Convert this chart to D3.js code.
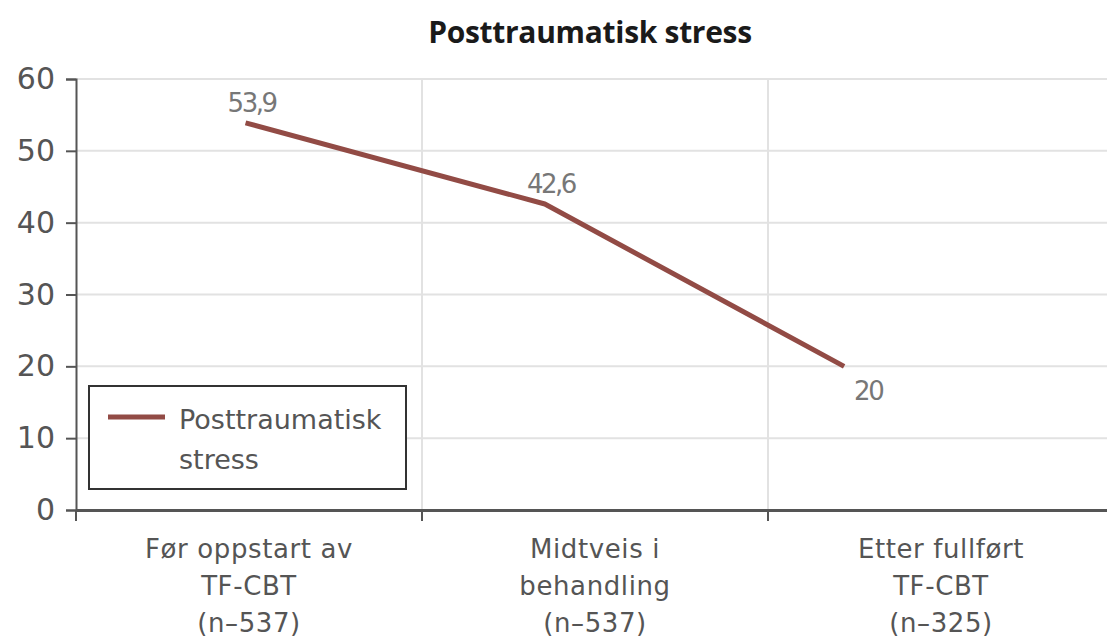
<!DOCTYPE html>
<html>
<head>
<meta charset="utf-8">
<script src="https://cdn.jsdelivr.net/npm/d3@7"></script>
<style>
  body { margin: 0; background: #fff; }
  svg { display: block; }
</style>
</head>
<body>
<div id="chart"></div>
<script>
// data
const categories = [
  ["Før oppstart av", "TF-CBT", "(n–537)"],
  ["Midtveis i", "behandling", "(n–537)"],
  ["Etter fullført", "TF-CBT", "(n–325)"]
];
const values = [53.9, 42.6, 20];
const valueLabels = ["53,9", "42,6", "20"];
const yTicks = [0, 10, 20, 30, 40, 50, 60];
const seriesName = ["Posttraumatisk", "stress"];
const title = "Posttraumatisk stress";

const width = 1107, height = 642;
const margin = { top: 79, right: -7, bottom: 132, left: 76 };
const lineColor = "#924b45";
const font = "'DejaVu Sans', 'Open Sans', sans-serif";
const textColor = "#555";

const svg = d3.select("#chart").append("svg")
  .attr("width", width)
  .attr("height", height);

const keys = categories.map((d, i) => i);
const x = d3.scaleBand()
  .domain(keys)
  .range([margin.left, width - margin.right]);

// the line in the original sits a bit left of the category centres
const xLine = d3.scalePoint()
  .domain(keys)
  .range([x(0) + x.bandwidth() * 0.49, x(2) + x.bandwidth() * 0.22]);

const y = d3.scaleLinear()
  .domain([0, 60])
  .range([height - margin.bottom, margin.top]);

// horizontal grid
svg.append("g")
  .selectAll("line")
  .data(yTicks.slice(1))
  .enter().append("line")
  .attr("x1", margin.left)
  .attr("x2", width)
  .attr("y1", d => y(d))
  .attr("y2", d => y(d))
  .attr("stroke", "#e2e2e2")
  .attr("stroke-width", 2);

// vertical grid at band boundaries
svg.append("g")
  .selectAll("line")
  .data(keys.slice(1))
  .enter().append("line")
  .attr("x1", d => x(d))
  .attr("x2", d => x(d))
  .attr("y1", y(60))
  .attr("y2", y(0))
  .attr("stroke", "#e2e2e2")
  .attr("stroke-width", 2);

// y axis
const yAxis = svg.append("g")
  .attr("transform", `translate(${margin.left},0)`)
  .call(d3.axisLeft(y).tickValues(yTicks).tickSize(10).tickPadding(11));
yAxis.select(".domain").attr("stroke", "#555").attr("stroke-width", 2);
yAxis.selectAll(".tick line").attr("stroke", "#555").attr("stroke-width", 2);
yAxis.selectAll(".tick text")
  .attr("fill", textColor)
  .style("font-family", font)
  .style("font-size", "30px");

// x axis
const xAxis = svg.append("g")
  .attr("transform", `translate(0,${y(0)})`)
  .call(d3.axisBottom(x).tickSize(0).tickFormat(""));
xAxis.select(".domain").attr("stroke", "#555").attr("stroke-width", 3);
xAxis.selectAll(".tick").remove();

// x ticks at band boundaries
svg.append("g")
  .selectAll("line")
  .data(keys)
  .enter().append("line")
  .attr("x1", d => x(d))
  .attr("x2", d => x(d))
  .attr("y1", y(0))
  .attr("y2", y(0) + 11)
  .attr("stroke", "#555")
  .attr("stroke-width", 2);

// x labels
const xl = svg.append("g")
  .selectAll("text")
  .data(keys)
  .enter().append("text")
  .attr("x", d => x(d) + x.bandwidth() / 2)
  .attr("y", y(0) + 48)
  .attr("text-anchor", "middle")
  .attr("fill", textColor)
  .style("font-family", font)
  .style("font-size", "26px")
  .style("letter-spacing", "0.6px");
xl.selectAll("tspan")
  .data(d => categories[d])
  .enter().append("tspan")
  .attr("x", function() { return d3.select(this.parentNode).attr("x"); })
  .attr("dy", (d, i) => i === 0 ? 0 : 37)
  .text(d => d);

// line
const line = d3.line()
  .x((d, i) => xLine(i))
  .y(d => y(d));

svg.append("path")
  .datum(values)
  .attr("d", line)
  .attr("fill", "none")
  .attr("stroke", lineColor)
  .attr("stroke-width", 5)
  .attr("stroke-linejoin", "round");

// value labels
svg.append("g")
  .selectAll("text")
  .data(values)
  .enter().append("text")
  .attr("x", (d, i) => i === 2 ? xLine(i) + 10 : xLine(i) + 6)
  .attr("y", (d, i) => i === 2 ? y(d) + 34 : y(d) - 11)
  .attr("text-anchor", (d, i) => i === 2 ? "start" : "middle")
  .attr("fill", "#777")
  .style("font-family", font)
  .style("font-size", "26px")
  .style("letter-spacing", "-2.5px")
  .text((d, i) => valueLabels[i]);

// title
svg.append("text")
  .attr("x", 590)
  .attr("y", 43)
  .attr("text-anchor", "middle")
  .attr("fill", "#1a1a1a")
  .style("font-family", "'Open Sans', sans-serif")
  .style("font-size", "30px")
  .style("font-weight", 700)
  .style("letter-spacing", "-0.3px")
  .text(title);

// legend
const lg = svg.append("g").attr("transform", "translate(89,386)");
lg.append("rect")
  .attr("width", 317)
  .attr("height", 103)
  .attr("fill", "#fff")
  .attr("stroke", "#333")
  .attr("stroke-width", 2);
lg.append("line")
  .attr("x1", 19).attr("x2", 76)
  .attr("y1", 31).attr("y2", 31)
  .attr("stroke", lineColor)
  .attr("stroke-width", 5);
lg.append("text")
  .attr("y", 43)
  .attr("fill", textColor)
  .style("font-family", font)
  .style("font-size", "27px")
  .selectAll("tspan")
  .data(seriesName)
  .enter().append("tspan")
  .attr("x", 90)
  .attr("dy", (d, i) => i === 0 ? 0 : 40)
  .text(d => d);
</script>
</body>
</html>
